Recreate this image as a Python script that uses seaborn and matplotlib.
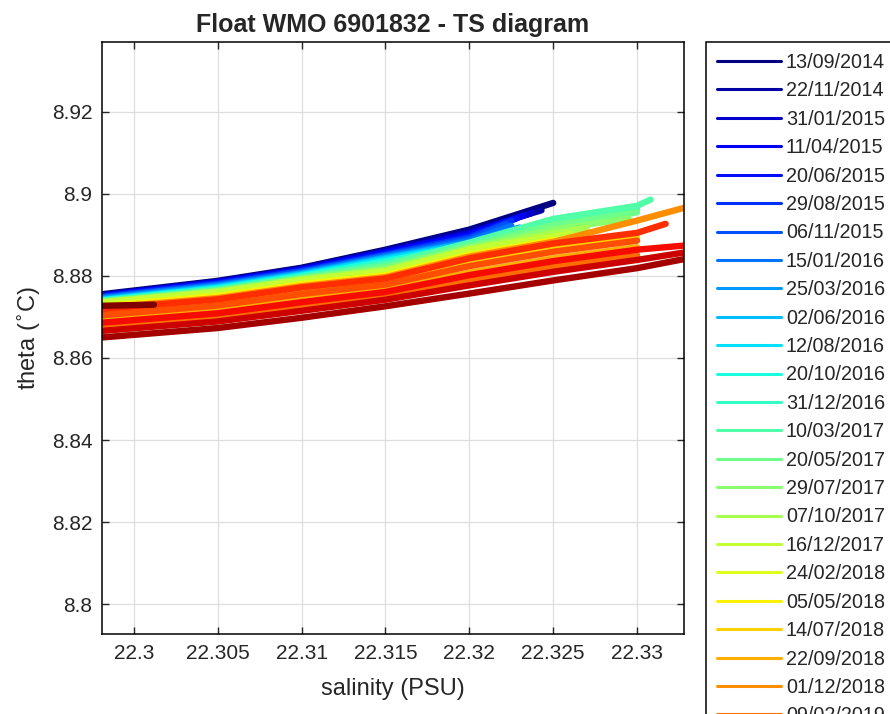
import matplotlib
matplotlib.use("Agg")
import matplotlib.pyplot as plt
from matplotlib.ticker import FuncFormatter
import pandas as pd
import seaborn as sns

# one profile every ~70 days, earliest first
profile_dates = [
    "13/09/2014", "22/11/2014", "31/01/2015", "11/04/2015", "20/06/2015",
    "29/08/2015", "06/11/2015", "15/01/2016", "25/03/2016", "02/06/2016",
    "12/08/2016", "20/10/2016", "31/12/2016", "10/03/2017", "20/05/2017",
    "29/07/2017", "07/10/2017", "16/12/2017", "24/02/2018", "05/05/2018",
    "14/07/2018", "22/09/2018", "01/12/2018", "09/02/2019", "20/04/2019",
    "29/06/2019", "07/09/2019", "16/11/2019", "25/01/2020", "04/04/2020",
]

S0 = [22.2978, 22.305, 22.31, 22.315, 22.32]

salinity = [
    S0 + [22.325],
    S0 + [22.3243],
    S0 + [22.3237],
    S0 + [22.3232],
    S0 + [22.3228],
    S0 + [22.3225],
    S0 + [22.3222],
    S0 + [22.3225],
    S0 + [22.323],
    S0 + [22.322],
    S0 + [22.3215],
    S0 + [22.3218],
    S0 + [22.325, 22.33],
    S0 + [22.325, 22.33, 22.3308],
    S0 + [22.325, 22.33],
    S0 + [22.325, 22.3295],
    S0 + [22.325, 22.327],
    S0 + [22.325, 22.326],
    S0 + [22.3215],
    S0 + [22.325],
    S0 + [22.325, 22.33],
    S0 + [22.325, 22.33],
    S0 + [22.325, 22.33, 22.3328],
    S0 + [22.325, 22.33],
    S0 + [22.325, 22.33],
    S0 + [22.325, 22.33, 22.3317],
    S0 + [22.325, 22.33, 22.3328],
    S0 + [22.325, 22.33, 22.3328],
    S0 + [22.325, 22.33, 22.3328],
    [22.2978, 22.3012],
]

theta = [
    [8.8754, 8.8788, 8.8820, 8.8864, 8.8913, 8.8978],
    [8.8752, 8.8786, 8.8818, 8.8861, 8.8908, 8.8960],
    [8.8751, 8.8785, 8.8816, 8.8859, 8.8904, 8.8953],
    [8.8750, 8.8784, 8.8815, 8.8857, 8.8901, 8.8947],
    [8.8749, 8.8782, 8.8813, 8.8854, 8.8897, 8.8940],
    [8.8748, 8.8781, 8.8812, 8.8852, 8.8894, 8.8934],
    [8.8746, 8.8779, 8.8810, 8.8850, 8.8890, 8.8926],
    [8.8745, 8.8777, 8.8808, 8.8848, 8.8886, 8.8922],
    [8.8743, 8.8775, 8.8806, 8.8845, 8.8882, 8.8918],
    [8.8741, 8.8773, 8.8804, 8.8843, 8.8880, 8.8897],
    [8.8740, 8.8771, 8.8802, 8.8840, 8.8877, 8.8889],
    [8.8739, 8.8769, 8.8800, 8.8836, 8.8874, 8.8887],
    [8.8738, 8.8767, 8.8798, 8.8831, 8.8877, 8.8931, 8.8963],
    [8.8737, 8.8766, 8.8796, 8.8827, 8.8881, 8.8939, 8.8971, 8.8986],
    [8.8736, 8.8764, 8.8794, 8.8822, 8.8873, 8.8924, 8.8955],
    [8.8735, 8.8763, 8.8792, 8.8817, 8.8869, 8.8913, 8.8940],
    [8.8735, 8.8761, 8.8791, 8.8814, 8.8866, 8.8904, 8.8917],
    [8.8734, 8.8760, 8.8789, 8.8811, 8.8864, 8.8896, 8.8903],
    [8.8726, 8.8751, 8.8780, 8.8802, 8.8852, 8.8858],
    [8.8725, 8.8750, 8.8779, 8.8801, 8.8851, 8.8887],
    [8.8708, 8.8733, 8.8761, 8.8784, 8.8831, 8.8866, 8.8893],
    [8.8690, 8.8715, 8.8742, 8.8766, 8.8808, 8.8843, 8.8870],
    [8.8721, 8.8746, 8.8775, 8.8797, 8.8847, 8.8883, 8.8935, 8.8966],
    [8.8675, 8.8699, 8.8726, 8.8752, 8.8789, 8.8823, 8.8851],
    [8.8703, 8.8728, 8.8756, 8.8779, 8.8824, 8.8859, 8.8886],
    [8.8718, 8.8743, 8.8772, 8.8794, 8.8843, 8.8879, 8.8905, 8.8927],
    [8.8685, 8.8709, 8.8736, 8.8761, 8.8802, 8.8836, 8.8864, 8.8874],
    [8.8665, 8.8689, 8.8715, 8.8742, 8.8777, 8.8810, 8.8839, 8.8857],
    [8.8649, 8.8673, 8.8698, 8.8726, 8.8757, 8.8789, 8.8819, 8.8841],
    [8.8727, 8.8730],
]

x_ticks = [22.3, 22.305, 22.31, 22.315, 22.32, 22.325, 22.33]
y_ticks = [8.8, 8.82, 8.84, 8.86, 8.88, 8.9, 8.92]

sns.set_theme(style="ticks")
plt.rcParams["font.family"] = ["Liberation Sans", "DejaVu Sans"]

rows = []
for date, s_vals, t_vals in zip(profile_dates, salinity, theta):
    for s, t in zip(s_vals, t_vals):
        rows.append({"date": date, "salinity": s, "theta": t})
df = pd.DataFrame(rows)

jet = plt.get_cmap("jet")
n = len(profile_dates)
palette = {d: jet(i / (n - 1)) for i, d in enumerate(profile_dates)}

fig = plt.figure(figsize=(8.9, 7.14), dpi=100)
ax = fig.add_axes([0.1146, 0.112, 0.654, 0.829])
sns.lineplot(
    data=df, x="salinity", y="theta", hue="date", hue_order=profile_dates,
    palette=palette, estimator=None, sort=False, linewidth=4.6,
    legend="full", ax=ax,
)

old = ax.get_legend()
handles = old.legend_handles
labels = [t.get_text() for t in old.get_texts()]
leg = ax.legend(
    handles, labels, loc="upper left", bbox_to_anchor=(1.0378, 1.0),
    borderaxespad=0, frameon=True, fancybox=False, edgecolor="black",
    framealpha=1, fontsize=14.2, handlelength=3.25, handletextpad=0.25,
    labelspacing=0.477, borderpad=0.55,
)
leg.get_frame().set_linewidth(1.1)
for line in leg.get_lines():
    line.set_linewidth(2.2)

ax.set_xlim(22.2981, 22.3328)
ax.set_ylim(8.7927, 8.937)
ax.set_xticks(x_ticks)
ax.set_yticks(y_ticks)
fmt = FuncFormatter(lambda v, _: f"{v:g}")
ax.xaxis.set_major_formatter(fmt)
ax.yaxis.set_major_formatter(fmt)
ax.tick_params(direction="in", top=True, right=True, length=5, width=1,
               labelsize=15, pad=7, colors="#262626")
ax.grid(True, color="#dedede", linewidth=0.9)
ax.set_axisbelow(True)
for sp in ax.spines.values():
    sp.set_visible(True)
    sp.set_color("black")
    sp.set_linewidth(1.1)

ax.set_title("Float WMO 6901832 - TS diagram", fontsize=18,
             fontweight="bold", pad=7)
ax.set_xlabel("salinity (PSU)", fontsize=17, labelpad=11)
ax.set_ylabel(r"theta ($^{\circ}$C)", fontsize=17, labelpad=6)

fig.savefig("out.png", dpi=100)
